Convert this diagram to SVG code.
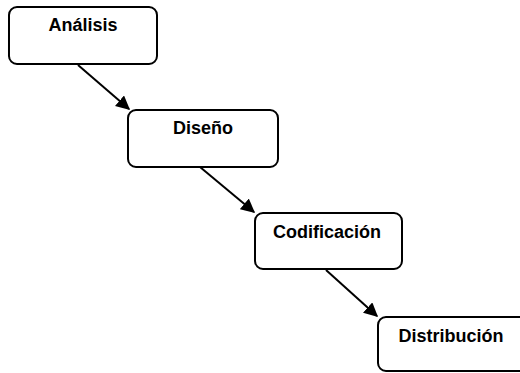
<svg xmlns="http://www.w3.org/2000/svg" width="520" height="373" viewBox="0 0 520 373">
<defs>
<style>
.box{fill:#fff;stroke:#000;stroke-width:2}
.lbl{font-family:"Liberation Sans",Arial,sans-serif;font-size:18px;font-weight:bold;fill:#000;text-anchor:middle}
.conn{stroke:#000;stroke-width:2;fill:none;marker-end:url(#ah)}
</style>
<marker id="ah" viewBox="0 0 10 10" refX="9" refY="5" markerWidth="7" markerHeight="7" orient="auto" markerUnits="strokeWidth">
<path d="M0,0 L10,5 L0,10 z" fill="#000"/>
</marker>
</defs>
<rect width="520" height="373" fill="#fff"/>
<g id="connectors">
<line class="conn" x1="78" y1="65" x2="129" y2="109"/>
<line class="conn" x1="200" y1="167" x2="254" y2="212"/>
<line class="conn" x1="326" y1="270" x2="377" y2="316"/>
</g>
<g id="analisis">
<rect class="box" x="9" y="7" width="148" height="57" rx="8"/>
<text class="lbl" x="83" y="31">Análisis</text>
</g>
<g id="diseno">
<rect class="box" x="128" y="110" width="150" height="57" rx="8"/>
<text class="lbl" x="203" y="134">Diseño</text>
</g>
<g id="codificacion">
<rect class="box" x="255" y="213" width="147" height="56" rx="8"/>
<text class="lbl" x="327" y="238">Codificación</text>
</g>
<g id="distribucion">
<rect class="box" x="378" y="317" width="200" height="54" rx="8"/>
<text class="lbl" x="451" y="342">Distribución</text>
</g>
</svg>
